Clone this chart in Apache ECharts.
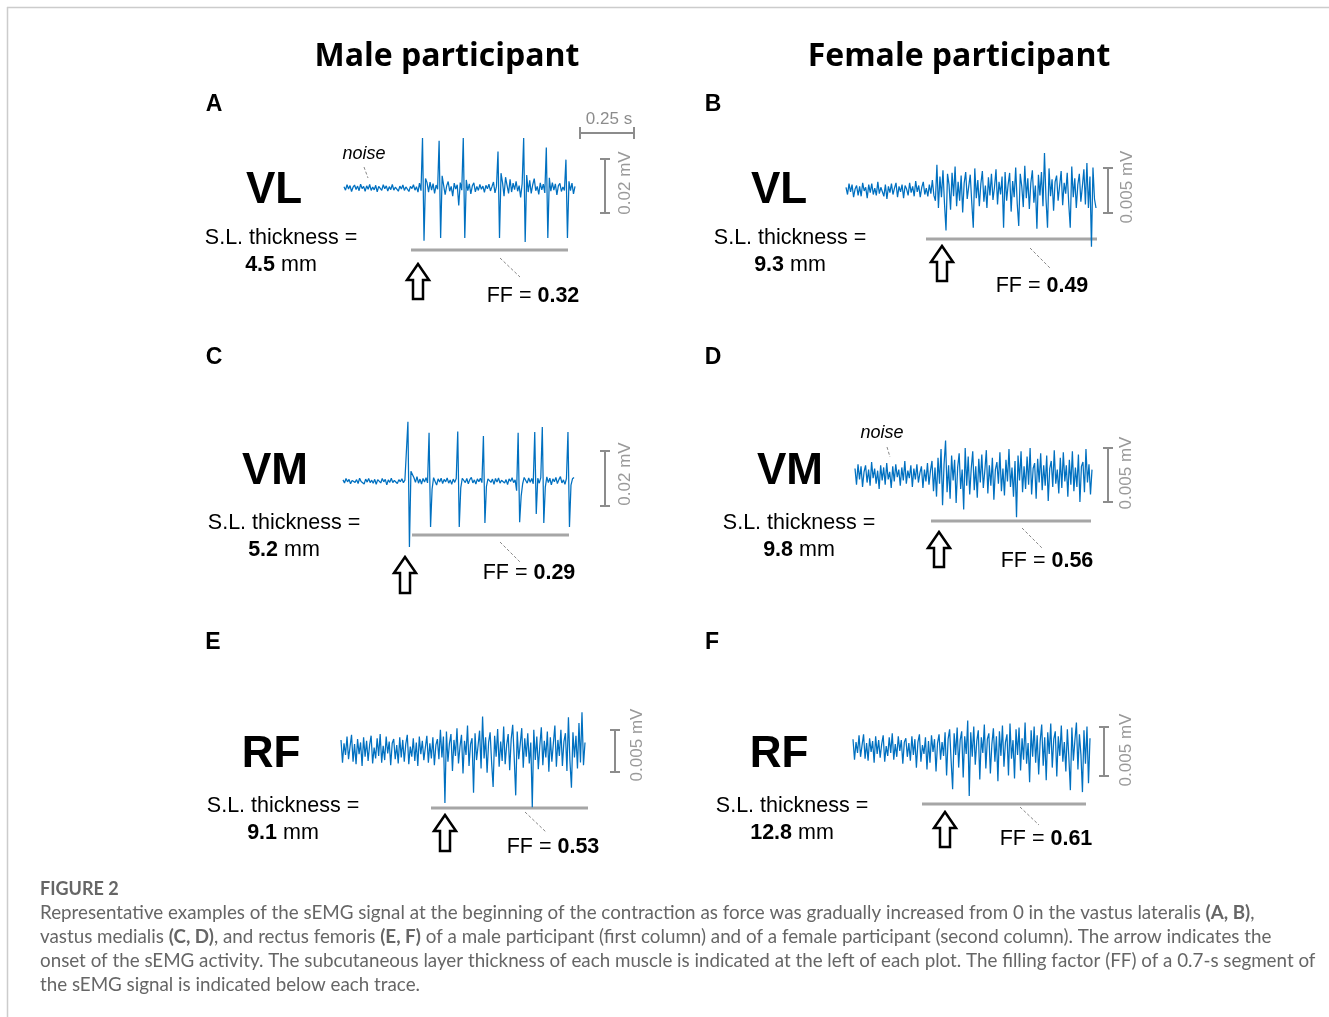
<!DOCTYPE html>
<html>
<head>
<meta charset="utf-8">
<title>sEMG onset examples</title>
<script src="https://cdn.jsdelivr.net/npm/echarts@6/dist/echarts.min.js"></script>
<style>
  html, body { margin: 0; padding: 0; background: #fff; }
  #chart { width: 1329px; height: 1017px; }
</style>
</head>
<body>
<div id="chart"></div>
<script>
// sEMG traces, µV per sample
const maleVL = [
  0.5,-0.8,1.2,-0.4,0.9,-1.3,0.3,1.1,-0.6,0.7,-1.0,1.4,-0.2,0.6,-1.2,0.8,-0.5,1.3,-0.9,0.4,
  -0.7,1.0,-1.4,0.6,0.2,-0.9,1.2,-0.3,0.8,-1.1,0.5,-0.6,1.3,-0.8,0.3,0.9,-1.2,0.7,-0.4,1.1,
  -0.9,0.4,1.0,-1.3,0.6,-0.2,1.2,-0.8,0.5,-1.5,1.8,-1.0,
  18.5,-19.5,3.5,2.0,-1.5,2.2,-0.8,1.6,-2.0,1.1,-0.5,
  17.5,-18.5,4.5,1.0,-2.5,0.8,2.4,-1.2,0.6,-3.0,1.8,-0.4,1.2,-6.5,2.0,-0.8,
  18.5,-18.5,3.0,-1.0,1.5,-2.2,0.8,1.9,-1.4,0.6,-0.9,1.3,-0.5,0.7,-1.6,1.0,-0.3,1.4,-1.1,0.5,2.2,-1.8,0.6,
  13.5,-18.5,5.5,2.0,-3.0,4.0,1.0,-2.0,3.2,-1.5,1.8,-0.6,2.5,-1.2,0.9,-3.5,1.6,
  18.5,-20.0,4.8,-1.5,2.8,-2.0,1.2,3.5,-1.0,0.6,-2.4,1.9,-0.7,1.4,-1.8,
  15.0,-18.5,3.8,-1.2,2.0,-0.8,1.5,-2.6,0.9,1.7,-1.3,0.4,-0.9,
  10.5,-18.5,2.5,-1.0,1.8,-2.2,0.6
];
const femaleVL = [
  0.3,-0.5,0.7,-0.2,0.6,-0.8,0.1,0.5,-0.6,0.4,-0.7,0.8,-0.1,0.3,-0.9,0.6,-0.3,0.7,-0.5,0.2,
  -0.6,0.9,-0.4,0.3,0.5,-0.7,0.6,-1.0,0.4,-0.3,0.7,-0.5,0.2,0.8,-0.8,0.4,-0.2,0.6,-0.9,0.5,
  0.1,-0.6,0.8,-0.3,0.4,-0.7,1.0,-0.2,0.5,-0.8,0.3,0.9,-0.5,0.2,-0.7,0.6,-0.4,1.1,-0.6,-1.2,
  2.8,-2.0,1.5,-0.8,2.2,-1.5,-4.5,1.8,0.6,-2.2,1.9,-0.7,2.6,-1.8,0.9,-1.2,1.6,-2.5,0.8,2.0,
  -1.0,0.4,1.7,-1.4,-4.2,2.4,-0.9,1.1,-1.8,0.7,2.1,-1.3,0.5,-2.0,1.4,-0.6,1.8,-1.1,0.3,2.3,
  -1.6,0.9,-0.5,1.5,-4.2,2.0,-1.2,0.6,1.9,-2.4,1.0,-0.8,2.5,-1.5,-4.0,1.8,0.4,-1.9,2.7,-0.9,
  1.3,-2.1,0.8,2.2,-1.4,0.5,-4.3,1.7,-0.6,2.0,-1.8,4.1,-1.0,-4.2,2.4,-0.7,1.2,-2.3,0.9,1.6,
  -1.2,0.5,2.1,-1.7,0.8,-0.4,1.9,-1.5,-4.2,2.6,-0.8,1.3,-2.0,0.6,1.8,-1.3,0.4,2.3,-1.6,3.0,
  -2.0,1.5,-6.3,2.5,-1.0,-2.0
];
const maleVM = [
  0.4,-0.7,0.9,-0.3,0.6,-1.0,0.2,0.8,-0.5,0.5,-0.9,1.0,-0.2,0.4,-1.1,0.7,-0.4,0.9,-0.6,0.3,
  -0.8,0.6,-1.2,0.5,0.1,-0.7,0.9,-0.3,0.6,-1.4,0.4,-0.5,1.0,-0.6,0.2,0.7,-0.9,0.5,-0.3,0.8,
  -0.6,0.3,-0.4,
  21.5,-24.0,3.5,2.8,1.2,-0.5,1.6,-0.8,0.7,-1.1,0.9,-0.4,1.2,-0.7,
  17.5,-16.7,-3.0,1.2,0.5,-1.5,0.8,-0.4,1.0,-0.9,0.6,-0.3,1.1,-0.8,0.4,-1.2,0.7,-0.5,0.9,
  18.0,-16.7,-2.5,1.0,1.6,-0.6,0.9,-1.0,0.5,1.3,-0.7,0.4,-1.1,0.8,-0.3,1.0,-0.6,
  16.4,-15.3,-2.0,0.8,1.4,-0.5,0.7,-1.2,0.9,-0.4,1.1,-0.8,0.3,1.0,-0.7,0.5,-1.3,0.8,-0.2,1.2,-0.6,0.4,-3.5,
  17.5,-15.0,-5.5,-1.0,1.3,0.6,-0.8,1.1,-0.5,0.9,-1.0,
  17.8,-12.0,1.0,-0.8,1.2,
  19.6,-15.3,-2.2,1.5,-0.6,1.0,-1.4,0.8,-0.3,1.3,-0.9,0.5,1.6,-0.7,0.4,-1.2,0.9,
  17.8,-16.7,-1.5,0.8,1.3
];
const femaleVM = [
  0.6,-0.9,1.0,-0.4,0.8,-1.1,0.3,0.9,-0.7,0.5,-1.0,1.2,-0.3,0.6,-0.8,0.4,-1.3,0.9,-0.5,0.7,
  -0.9,1.1,-0.4,0.3,-1.2,0.8,-0.6,1.0,-0.2,0.5,-1.0,0.7,-0.5,1.3,-0.8,0.4,-0.3,0.9,-1.1,0.6,
  -0.4,1.0,-0.7,0.2,0.8,-1.2,0.5,-0.6,1.1,-0.9,0.4,1.3,-1.5,0.7,-2.0,1.6,-0.8,2.4,-2.8,1.0,
  3.2,-1.6,0.9,-2.2,1.8,-0.5,1.4,-2.6,0.7,2.0,-1.3,0.5,-3.2,2.5,-1.0,1.7,-1.8,0.6,2.2,-1.4,
  0.8,-2.1,1.5,-0.7,1.9,-1.2,0.4,2.3,-1.7,0.9,-1.0,1.6,-2.3,0.5,1.2,-0.8,2.1,-1.5,0.6,-1.9,
  1.4,-0.6,2.4,-1.1,0.7,-2.0,1.3,-3.9,1.8,-0.5,2.2,-1.6,0.8,-1.3,1.7,-0.9,2.5,-1.8,0.6,1.1,
  -2.2,1.5,-0.7,2.0,-1.4,0.9,-1.0,1.8,-2.4,0.6,1.3,-1.1,2.3,-0.8,0.5,-1.7,1.6,-1.2,2.1,-0.6,
  0.9,-2.0,1.4,-0.9,2.2,-1.5,0.7,-1.1,1.9,-2.5,0.8,1.2,-1.6,2.4,-0.7,1.0,-1.8,0.5
];
const maleRF = [
  1.2,-1.5,0.8,-0.6,1.6,-1.1,0.4,1.8,-1.4,0.7,-1.7,1.3,-0.5,0.9,-1.9,1.5,-0.8,1.1,-1.3,0.6,
  1.7,-1.6,0.3,-1.0,1.4,-0.7,1.9,-1.5,0.5,-1.2,1.6,-0.4,1.0,-1.8,0.8,1.3,-1.1,0.6,-1.6,1.5,
  -0.9,1.2,-1.4,0.7,1.8,-1.7,0.4,-0.8,1.4,-1.3,0.9,-1.9,1.6,-0.5,1.1,-1.2,0.3,1.7,-1.5,0.8,
  -1.0,1.5,-1.8,0.6,1.3,-1.1,2.4,-0.9,1.6,-6.3,2.2,-1.4,0.8,1.9,-2.5,1.2,-0.7,2.6,-1.6,0.4,
  1.8,-2.8,1.1,-0.6,2.9,-1.9,0.7,1.4,-5.1,2.0,-1.2,0.5,2.3,-2.2,4.0,-1.0,1.5,-2.7,0.9,2.1,
  -1.5,-4.4,1.7,-0.8,2.5,-2.0,1.0,-1.3,2.8,-1.7,0.6,1.9,-2.4,1.3,3.0,-0.9,-5.4,2.2,-1.1,0.7,
  2.6,-2.1,1.4,-0.8,2.0,-1.6,0.9,-6.8,2.4,-1.2,1.6,-2.3,0.5,2.7,-1.8,1.1,-0.9,2.2,-2.6,1.5,
  -1.4,0.8,2.9,-2.0,1.2,-0.7,2.4,-1.9,1.0,2.0,-2.5,3.9,-1.3,-4.5,2.1,-0.9,1.7,-2.2,3.2,-1.5,
  4.5,-1.8,0.9
];
const femaleRF = [
  0.9,-1.2,0.6,-0.5,1.3,-0.9,0.3,1.4,-1.1,0.5,-1.3,1.0,-0.4,0.7,-1.5,1.2,-0.6,0.8,-1.0,0.4,
  1.3,-1.4,0.2,-0.8,1.1,-0.5,1.5,-1.2,0.4,-0.9,1.2,-0.3,0.8,-1.6,0.6,1.0,-0.9,0.5,-1.3,1.2,
  -0.7,0.9,-2.0,0.6,1.4,-1.4,0.3,-0.6,1.1,-2.2,0.7,-1.5,1.3,-0.4,0.9,-2.4,0.5,1.4,-1.2,0.6,
  -0.8,1.6,-2.8,0.9,1.9,-1.3,-4.2,1.5,-0.7,2.1,-2.0,0.8,1.7,-3.0,1.2,-0.6,2.8,-4.9,1.6,-0.9,
  2.2,-1.7,0.7,1.8,-3.2,1.1,-0.5,2.4,-2.1,0.9,1.5,-2.6,0.4,2.0,-1.4,1.2,-3.4,1.7,-0.8,2.3,
  -1.9,0.6,1.4,-2.8,2.5,-1.1,0.8,-3.1,1.9,-0.7,2.1,-2.3,1.0,-1.2,2.6,-1.6,0.5,-3.5,1.8,-0.9,
  2.2,-1.5,1.3,-2.7,0.7,2.4,-1.8,1.1,-3.3,1.6,-0.6,2.5,-2.0,0.9,1.7,-2.9,1.2,-0.8,2.3,-1.4,
  0.6,-2.4,1.9,-1.0,-4.3,2.1,-1.3,0.8,2.6,-2.2,1.4,-0.7,-4.5,1.8,-1.6,2.2,-3.6,1.0
];

const columnTitles = ['Male participant', 'Female participant'];
const panelLetters = ['A', 'B', 'C', 'D', 'E', 'F'];
const muscles = ['VL', 'VL', 'VM', 'VM', 'RF', 'RF'];
const thickness = ['4.5', '9.3', '5.2', '9.8', '9.1', '12.8'];
const fillingFactor = ['0.32', '0.49', '0.29', '0.56', '0.53', '0.61'];
const ampScale = ['0.02 mV', '0.005 mV', '0.02 mV', '0.005 mV', '0.005 mV', '0.005 mV'];
const traces = [maleVL, femaleVL, maleVM, femaleVM, maleRF, femaleRF];

// pixel placement of each panel (px per µV in ppu)
const panels = [
  { x0: 344, x1: 575, y0: 188, ppu: 2.7, half: 22, letter: [214, 105], muscle: [274, 191], sl: [281, 238], ff: [533, 296],
    bar: [411, 568, 250], lead: [500, 258, 520, 277], arrow: [418, 264, 299], scale: [605, 159, 213], scaleText: [625, 183] },
  { x0: 846, x1: 1096, y0: 190, ppu: 9, half: 7, letter: [713, 105], muscle: [779, 191], sl: [790, 238], ff: [1042, 286],
    bar: [926, 1097, 239], lead: [1030, 248, 1050, 268], arrow: [942, 246, 281], scale: [1108, 168, 213], scaleText: [1127, 187] },
  { x0: 343, x1: 574, y0: 481, ppu: 2.75, half: 26, letter: [214, 358], muscle: [275, 472], sl: [284, 523], ff: [529, 573],
    bar: [412, 569, 535], lead: [500, 542, 520, 562], arrow: [405, 557, 593], scale: [605, 451, 506], scaleText: [625, 474] },
  { x0: 855, x1: 1092, y0: 475, ppu: 10.8, half: 5, letter: [713, 358], muscle: [790, 472], sl: [799, 523], ff: [1047, 561],
    bar: [931, 1091, 521], lead: [1022, 528, 1042, 548], arrow: [939, 532, 567], scale: [1108, 448, 502], scaleText: [1126, 473] },
  { x0: 341, x1: 585, y0: 750, ppu: 8.4, half: 8, letter: [213, 643], muscle: [271, 755], sl: [283, 806], ff: [553, 847],
    bar: [431, 588, 808], lead: [525, 812, 546, 832], arrow: [445, 815, 851], scale: [615, 730, 772], scaleText: [637, 745] },
  { x0: 853, x1: 1090, y0: 748, ppu: 9.8, half: 6, letter: [712, 643], muscle: [779, 755], sl: [792, 806], ff: [1046, 839],
    bar: [922, 1086, 804], lead: [1020, 807, 1039, 825], arrow: [945, 812, 847], scale: [1104, 727, 776], scaleText: [1126, 750] }
];

const ARIAL = '"Liberation Sans", Arial, sans-serif';
const GREY = '#a6a6a6';
const SCALE = '#8c8c8c';

const grids = [], xAxes = [], yAxes = [], series = [], graphics = [];

const text = (x, y, str, font, extra) => ({
  type: 'text', silent: true,
  style: Object.assign({ x, y, text: str, font, fill: '#000', align: 'center', verticalAlign: 'middle' }, extra || {})
});
const line = (x1, y1, x2, y2, stroke, lineWidth, dash) => ({
  type: 'line', silent: true,
  shape: { x1, y1, x2, y2 },
  style: { stroke, lineWidth, lineDash: dash || null }
});

panels.forEach((p, i) => {
  const data = traces[i];
  grids.push({ left: p.x0, width: p.x1 - p.x0, top: p.y0 - p.half * p.ppu, height: 2 * p.half * p.ppu });
  xAxes.push({ type: 'category', gridIndex: i, show: false, boundaryGap: false, data: data.map((_, k) => k) });
  yAxes.push({ type: 'value', gridIndex: i, show: false, min: -p.half, max: p.half });
  series.push({
    type: 'line', xAxisIndex: i, yAxisIndex: i, data,
    showSymbol: false, silent: true, sampling: null,
    lineStyle: { color: '#0070c0', width: 1.25 }
  });

  graphics.push(text(p.letter[0], p.letter[1], panelLetters[i], 'bold 23px ' + ARIAL));
  graphics.push(text(p.muscle[0], p.muscle[1], muscles[i], 'bold 44px ' + ARIAL));
  graphics.push(text(p.sl[0], p.sl[1], 'S.L. thickness =', '21.5px ' + ARIAL));
  graphics.push(text(p.sl[0], p.sl[1] + 27, '{b|' + thickness[i] + '} mm', '21.5px ' + ARIAL,
    { rich: { b: { font: 'bold 21.5px ' + ARIAL } } }));
  graphics.push(text(p.ff[0], p.ff[1], 'FF = {b|' + fillingFactor[i] + '}', '21.5px ' + ARIAL,
    { rich: { b: { font: 'bold 21.5px ' + ARIAL } } }));

  // segment bar and its leader
  graphics.push(line(p.bar[0], p.bar[2], p.bar[1], p.bar[2], GREY, 3));
  graphics.push(line(p.lead[0], p.lead[1], p.lead[2], p.lead[3], '#888', 1, [3, 2]));

  // onset arrow
  const cx = p.arrow[0], yt = p.arrow[1], yb = p.arrow[2], hb = yt + 16;
  graphics.push({
    type: 'polygon', silent: true,
    shape: { points: [[cx, yt], [cx + 11, hb], [cx + 5, hb], [cx + 5, yb], [cx - 5, yb], [cx - 5, hb], [cx - 11, hb]] },
    style: { fill: '#fff', stroke: '#000', lineWidth: 2.5, lineJoin: 'miter' }
  });

  // amplitude scale bar
  const sx = p.scale[0];
  graphics.push(line(sx, p.scale[1], sx, p.scale[2], SCALE, 2));
  graphics.push(line(sx - 5, p.scale[1], sx + 5, p.scale[1], SCALE, 2));
  graphics.push(line(sx - 5, p.scale[2], sx + 5, p.scale[2], SCALE, 2));
  graphics.push({
    type: 'text', silent: true, x: p.scaleText[0], y: p.scaleText[1], rotation: Math.PI / 2,
    style: { x: 0, y: 0, text: ampScale[i], font: '17px ' + ARIAL, fill: '#999', align: 'center', verticalAlign: 'middle' }
  });
});

// time scale (panel A only)
graphics.push(line(580, 133, 634, 133, SCALE, 2));
graphics.push(line(580, 127, 580, 139, SCALE, 2));
graphics.push(line(634, 127, 634, 139, SCALE, 2));
graphics.push(text(609, 119, '0.25 s', '17px ' + ARIAL, { fill: '#8c8c8c' }));

// "noise" callouts
graphics.push(text(364, 154, 'noise', 'italic 18px ' + ARIAL));
graphics.push(line(364, 167, 368, 178, '#888', 1, [3, 2]));
graphics.push(text(882, 433, 'noise', 'italic 18px ' + ARIAL));
graphics.push(line(887, 447, 890, 457, '#888', 1, [3, 2]));

// column titles
graphics.push(text(447, 57, columnTitles[0], 'bold 32px "Open Sans", sans-serif'));
graphics.push(text(959, 57, columnTitles[1], 'bold 32px "Open Sans", sans-serif'));

// figure frame
graphics.push(line(7, 7.5, 1329, 7.5, '#cccccc', 1.5));
graphics.push(line(7.5, 7, 7.5, 1017, '#cccccc', 1.5));

// caption
const CAP = '18.8px Lato, sans-serif';
const CAPB = 'bold 18.8px Lato, sans-serif';
const capRich = { rich: { b: { font: CAPB, fill: '#666' } }, align: 'left', fill: '#666' };
graphics.push(text(40, 889, 'FIGURE 2', 'bold 18px Lato, sans-serif', { align: 'left', fill: '#666' }));
[
  'Representative examples of the sEMG signal at the beginning of the contraction as force was gradually increased from 0 in the vastus lateralis {b|(A, B)},',
  'vastus medialis {b|(C, D)}, and rectus femoris {b|(E, F)} of a male participant (first column) and of a female participant (second column). The arrow indicates the',
  'onset of the sEMG activity. The subcutaneous layer thickness of each muscle is indicated at the left of each plot. The filling factor (FF) of a 0.7-s segment of',
  'the sEMG signal is indicated below each trace.'
].forEach((s, k) => graphics.push(text(40, 913 + 24 * k, s, CAP, capRich)));

const chart = echarts.init(document.getElementById('chart'), null, { renderer: 'canvas' });
chart.setOption({
  animation: false,
  backgroundColor: '#fff',
  grid: grids,
  xAxis: xAxes,
  yAxis: yAxes,
  series,
  graphic: { elements: graphics }
});
</script>
</body>
</html>
